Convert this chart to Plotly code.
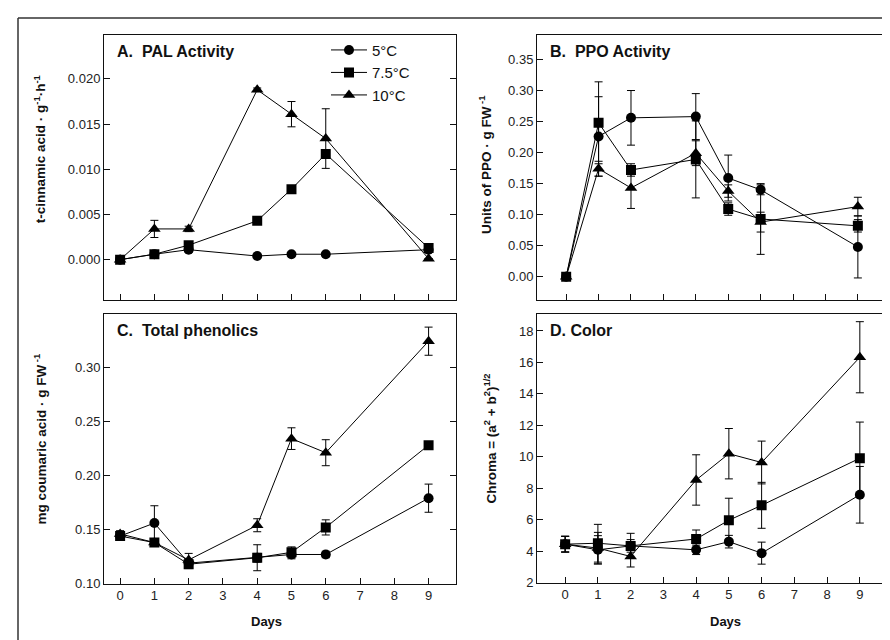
import plotly.graph_objects as go

# ---------------- data ----------------
days = [0, 1, 2, 4, 5, 6, 9]
series_names = ["5°C", "7.5°C", "10°C"]
symbols = ["circle", "square", "triangle-up"]

# A. PAL activity
pal_5 = [0.0000, 0.0006, 0.0011, 0.0004, 0.0006, 0.0006, 0.0011]
pal_75 = [0.0000, 0.0006, 0.0016, 0.0043, 0.0078, 0.0117, 0.0013]
pal_10 = [0.0000, 0.0034, 0.0034, 0.0188, 0.0161, 0.0134, 0.0001]
pal_5_err = [0, 0, 0.0003, 0, 0, 0, 0]
pal_75_err = [0, 0, 0, 0, 0, 0, 0]
pal_10_err = [0, 0.00095, 0.0003, 0.0002, 0.0014, 0.0033, 0]

# B. PPO activity
ppo_5 = [0.000, 0.226, 0.256, 0.258, 0.159, 0.140, 0.048]
ppo_75 = [0.000, 0.248, 0.172, 0.189, 0.109, 0.093, 0.082]
ppo_10 = [0.000, 0.174, 0.143, 0.199, 0.138, 0.088, 0.113]
ppo_5_err = [0, 0.064, 0.044, 0.037, 0.037, 0.008, 0.050]
ppo_75_err = [0, 0.066, 0.010, 0.062, 0.010, 0.057, 0.010]
ppo_10_err = [0, 0.012, 0.033, 0.020, 0.010, 0.016, 0.015]

# C. Total phenolics
phe_5 = [0.144, 0.156, 0.119, 0.124, 0.127, 0.127, 0.179]
phe_75 = [0.144, 0.138, 0.118, 0.124, 0.129, 0.152, 0.228]
phe_10 = [0.146, 0.138, 0.122, 0.154, 0.234, 0.221, 0.324]
phe_5_err = [0.003, 0.016, 0.004, 0.012, 0.004, 0.003, 0.013]
phe_75_err = [0.003, 0.003, 0.004, 0.004, 0.005, 0.007, 0.003]
phe_10_err = [0.003, 0.003, 0.006, 0.006, 0.010, 0.012, 0.013]

# D. Color (chroma)
col_5 = [4.45, 4.09, 4.34, 4.09, 4.61, 3.88, 7.59]
col_75 = [4.45, 4.51, 4.34, 4.78, 5.97, 6.92, 9.91]
col_10 = [4.45, 4.20, 3.67, 8.53, 10.20, 9.64, 16.33]
col_5_err = [0.5, 0.9, 0.4, 0.3, 0.4, 0.7, 1.8]
col_75_err = [0.5, 1.2, 0.8, 0.57, 1.4, 1.46, 2.3]
col_10_err = [0.5, 1.0, 0.67, 1.6, 1.6, 1.36, 2.26]

x_ticks = [0, 1, 2, 3, 4, 5, 6, 7, 8, 9]

panels = [
    dict(vals=[pal_5, pal_75, pal_10], errs=[pal_5_err, pal_75_err, pal_10_err],
         title="A.  PAL Activity", ytitle="t-cinnamic acid · g<sup>-1</sup>·h<sup>-1</sup>",
         yrange=[-0.0045, 0.0249], ytick0=0, ydtick=0.005, yfmt=".3f",
         xrange=[-0.47, 9.8], xdom=[96, 448], ydom=[27, 296], xlabels=False),
    dict(vals=[ppo_5, ppo_75, ppo_10], errs=[ppo_5_err, ppo_75_err, ppo_10_err],
         title="B.  PPO Activity", ytitle="Units of PPO · g FW<sup> -1</sup>",
         yrange=[-0.038, 0.39], ytick0=0, ydtick=0.05, yfmt=".2f",
         xrange=[-0.9, 9.93], xdom=[529, 880], ydom=[27, 296], xlabels=False),
    dict(vals=[phe_5, phe_75, phe_10], errs=[phe_5_err, phe_75_err, phe_10_err],
         title="C.  Total phenolics", ytitle="mg coumaric acid · g FW<sup> -1</sup>",
         yrange=[0.10, 0.349], ytick0=0.10, ydtick=0.05, yfmt=".2f",
         xrange=[-0.47, 9.8], xdom=[96, 448], ydom=[310, 583], xlabels=True),
    dict(vals=[col_5, col_75, col_10], errs=[col_5_err, col_75_err, col_10_err],
         title="D. Color", ytitle="Chroma = (a<sup>2</sup> + b<sup>2</sup>)<sup>1/2</sup>",
         yrange=[2, 19.07], ytick0=2, ydtick=2, yfmt="d",
         xrange=[-0.86, 9.86], xdom=[529, 880], ydom=[310, 582], xlabels=True),
]

W, H = 890, 640
FONT = "Liberation Sans, Arial, sans-serif"

fig = go.Figure()
layout = dict(
    width=W, height=H, margin=dict(l=0, r=0, t=0, b=0),
    paper_bgcolor="white", plot_bgcolor="white",
    font=dict(family=FONT, color="#111"),
    showlegend=True,
    legend=dict(x=318 / W, y=1 - 26 / H, xanchor="left", yanchor="top",
                bgcolor="rgba(0,0,0,0)", font=dict(size=15, family=FONT, color="#111"),
                tracegroupgap=0, itemwidth=36),
)
annotations = []

for i, p in enumerate(panels):
    n = i + 1
    xa = "x" if n == 1 else f"x{n}"
    ya = "y" if n == 1 else f"y{n}"
    for k in range(3):
        fig.add_trace(go.Scatter(
            x=days, y=p["vals"][k], name=series_names[k], mode="lines+markers",
            xaxis=xa, yaxis=ya, showlegend=(i == 0),
            line=dict(color="black", width=1),
            marker=dict(symbol=symbols[k], color="black",
                        size=11 if symbols[k] == "triangle-up" else 10),
            error_y=dict(type="data", array=p["errs"][k], visible=True,
                         color="black", thickness=1, width=4),
        ))
    xkey = "xaxis" if n == 1 else f"xaxis{n}"
    ykey = "yaxis" if n == 1 else f"yaxis{n}"
    layout[xkey] = dict(
        domain=[p["xdom"][0] / W, p["xdom"][1] / W], anchor=ya,
        range=p["xrange"], tickmode="array", tickvals=x_ticks,
        ticktext=[str(t) for t in x_ticks],
        showticklabels=p["xlabels"],
        ticks="inside", ticklen=6, tickcolor="#111",
        showline=True, linecolor="#111", linewidth=1, mirror=True,
        showgrid=False, zeroline=False,
        tickfont=dict(size=13, family=FONT, color="#222"),
    )
    layout[ykey] = dict(
        domain=[1 - p["ydom"][1] / H, 1 - p["ydom"][0] / H], anchor=xa,
        range=p["yrange"], tick0=p["ytick0"], dtick=p["ydtick"], tickformat=p["yfmt"],
        ticks="inside", ticklen=6, tickcolor="#111",
        showline=True, linecolor="#111", linewidth=1, mirror="ticks",
        showgrid=False, zeroline=False,
        tickfont=dict(size=13, family=FONT, color="#222"),
    )
    # panel title
    annotations.append(dict(
        text=p["title"], xref="paper", yref="paper",
        x=(p["xdom"][0] + 11) / W, y=1 - (p["ydom"][0] + 6) / H,
        xanchor="left", yanchor="top", showarrow=False,
        font=dict(size=16, family=FONT, color="#111", weight="bold"),
    ))

# y-axis titles
ytitle_pos = [(32, 143), (477, 158), (32, 437), (482, 436)]
for p, (xp, yp) in zip(panels, ytitle_pos):
    annotations.append(dict(
        text=p["ytitle"], xref="paper", yref="paper", x=xp / W, y=1 - yp / H,
        xanchor="center", yanchor="middle", textangle=-90, showarrow=False,
        font=dict(size=13.5, family=FONT, color="#111", weight="bold"),
    ))

# x-axis titles
for xc in (258, 717):
    annotations.append(dict(
        text="Days", xref="paper", yref="paper", x=xc / W, y=1 - 621 / H,
        xanchor="center", yanchor="middle", showarrow=False,
        font=dict(size=13, family=FONT, color="#111", weight="bold"),
    ))

layout["annotations"] = annotations
layout["shapes"] = [
    dict(type="line", xref="paper", yref="paper", x0=10 / W, x1=1.0, y0=1 - 10 / H, y1=1 - 10 / H,
         line=dict(color="#333", width=1.5)),
    dict(type="line", xref="paper", yref="paper", x0=10 / W, x1=10 / W, y0=0, y1=1 - 10 / H,
         line=dict(color="#333", width=1.5)),
]

fig.update_layout(**layout)
fig.write_html("out.html")
